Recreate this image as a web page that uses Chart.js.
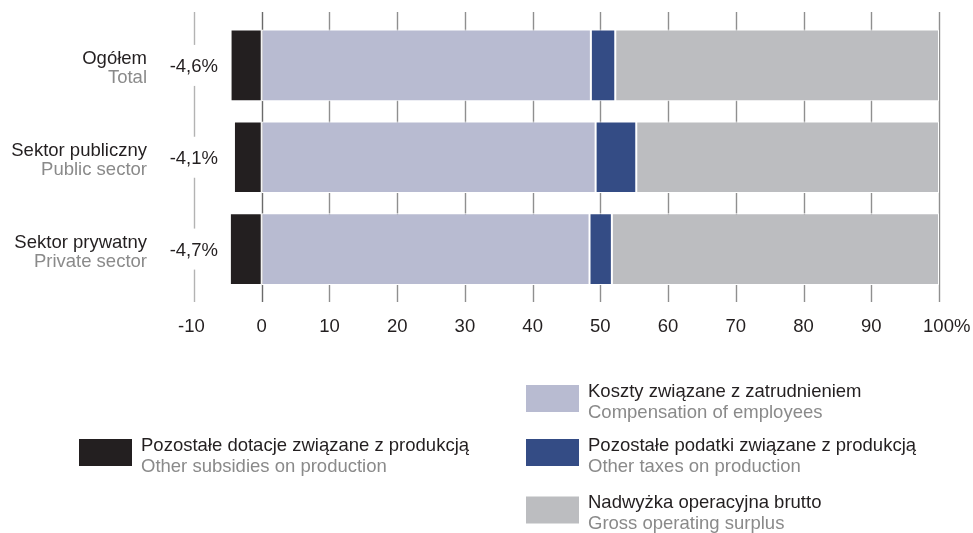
<!DOCTYPE html>
<html>
<head>
<meta charset="utf-8">
<script src="https://cdn.jsdelivr.net/npm/chart.js@4/dist/chart.umd.min.js"></script>
<style>
html,body{margin:0;padding:0;background:#fff;}
#wrap{width:973px;height:533px;position:relative;}
</style>
</head>
<body>
<div id="wrap"><canvas id="c" width="973" height="533"></canvas></div>
<script>
const categoriesPl = ['Ogółem', 'Sektor publiczny', 'Sektor prywatny'];
const categoriesEn = ['Total', 'Public sector', 'Private sector'];

const subsidies    = [-4.6, -4.1, -4.7];
const compensation = [48.6, 49.3, 48.4];
const taxes        = [3.6, 6.0, 3.3];
const surplus      = [47.8, 44.7, 48.3];

const tickLabels = ['-10', '0', '10', '20', '30', '40', '50', '60', '70', '80', '90', '100%'];

const seriesPl = ['Pozostałe dotacje związane z produkcją', 'Koszty związane z zatrudnieniem',
                  'Pozostałe podatki związane z produkcją', 'Nadwyżka operacyjna brutto'];
const seriesEn = ['Other subsidies on production', 'Compensation of employees',
                  'Other taxes on production', 'Gross operating surplus'];
const seriesColors = ['#231f20', '#b8bbd1', '#344c85', '#bcbdc0'];

const FONT = "'Liberation Sans', Arial, Helvetica, sans-serif";
const FS = 18.5;
const DARK = '#231f20';
const GREY = '#8a8a8a';

const gridPlugin = {
  id: 'gridPlugin',
  beforeDatasetsDraw(chart) {
    const ctx = chart.ctx, xs = chart.scales.x, ca = chart.chartArea;
    ctx.save();
    xs.ticks.forEach(t => {
      const x = Math.round(xs.getPixelForValue(t.value)) + 0.5;
      ctx.strokeStyle = t.value === 0 ? '#6a6a6a' : (t.value === -10 ? '#b3b3b3' : '#8f8f8f');
      ctx.lineWidth = 1.4;
      ctx.beginPath();
      ctx.moveTo(x, ca.top - 7.5);
      ctx.lineTo(x, ca.bottom + 7);
      ctx.stroke();
    });
    ctx.restore();
  },
  afterDatasetsDraw(chart) {
    const ctx = chart.ctx, xs = chart.scales.x, ys = chart.scales.y;
    ctx.save();
    categoriesPl.forEach((c, i) => {
      const cy = ys.getPixelForValue(i);
      const left = xs.getPixelForValue(-10);
      ctx.fillStyle = '#fff';
      ctx.fillRect(left - 30, cy - 20.5, 56, 41);
      ctx.fillStyle = DARK;
      ctx.font = FS + 'px ' + FONT;
      ctx.textAlign = 'right';
      ctx.textBaseline = 'alphabetic';
      ctx.fillText(subsidies[i].toFixed(1).replace('.', ',') + '%', left + 24, cy + 6.5);
      ctx.fillStyle = DARK;
      ctx.fillText(c, 147, cy - 1.5);
      ctx.fillStyle = GREY;
      ctx.fillText(categoriesEn[i], 147, cy + 17.5);
    });
    ctx.restore();
  },
  afterDraw(chart) {
    const ctx = chart.ctx;
    const items = [
      {i: 0, x: 79, y: 439},
      {i: 1, x: 526, y: 385},
      {i: 2, x: 526, y: 439},
      {i: 3, x: 526, y: 496.5}
    ];
    ctx.save();
    ctx.font = FS + 'px ' + FONT;
    ctx.textAlign = 'left';
    ctx.textBaseline = 'alphabetic';
    items.forEach(it => {
      ctx.fillStyle = seriesColors[it.i];
      ctx.fillRect(it.x, it.y, 53, 27);
      ctx.fillStyle = DARK;
      ctx.fillText(seriesPl[it.i], it.x + 62, it.y + 11.5);
      ctx.fillStyle = GREY;
      ctx.fillText(seriesEn[it.i], it.x + 62, it.y + 32.5);
    });
    ctx.restore();
  }
};

const data = {
  labels: categoriesPl,
  datasets: [subsidies, compensation, taxes, surplus].map((d, k) => ({
    label: seriesPl[k],
    data: d,
    backgroundColor: seriesColors[k],
    borderColor: '#ffffff',
    borderWidth: 1,
    borderSkipped: false,
    barPercentage: 0.78,
    categoryPercentage: 1
  }))
};

new Chart(document.getElementById('c'), {
  type: 'bar',
  data,
  plugins: [gridPlugin],
  options: {
    indexAxis: 'y',
    responsive: false,
    devicePixelRatio: 1,
    animation: false,
    layout: { padding: { left: 194, right: 34, top: 19.5, bottom: 195 } },
    plugins: { legend: { display: false }, tooltip: { enabled: false } },
    scales: {
      x: {
        stacked: true,
        min: -10,
        max: 100,
        border: { display: false },
        grid: { display: false, drawTicks: true, tickLength: 20 },
        ticks: {
          stepSize: 10,
          padding: 0.4,
          color: DARK,
          font: { family: FONT, size: FS },
          autoSkip: false,
          maxRotation: 0,
          callback: (v, idx) => {
            const s = tickLabels[idx];
            if (s.endsWith('%')) return '   ' + s;
            if (s.startsWith('-')) return s + ' ';
            return s;
          }
        }
      },
      y: {
        stacked: true,
        display: false
      }
    }
  }
});
</script>
</body>
</html>
